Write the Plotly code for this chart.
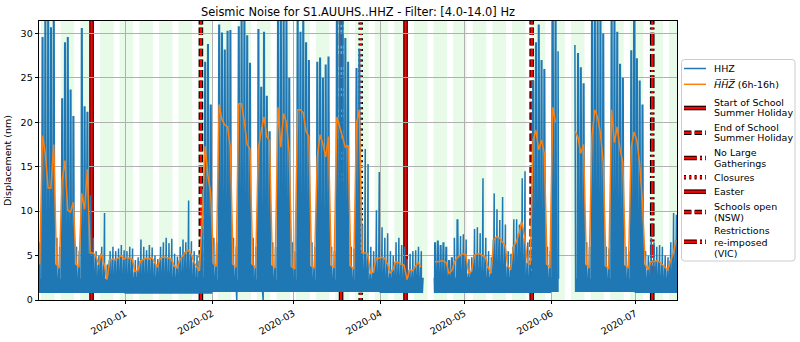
import pandas as pd
import plotly.graph_objects as go

# ---------------- data ----------------
# daily peak of the HHZ trace (nm), one value per day, Dec 1 2019 ... Jul 15 2020
peak_dec = [6.5, 29.6, 33, 33, 30.7, 33, 7.0, 6.0, 22.7, 29.0, 29.6, 23.7, 20.7, 6.0, 5.5,
            30.6, 21.8, 21.2, 11.8, 7.0, 5.5, 5.0, 6.0, 9.8, 4.0, 5.5, 6.0, 5.5, 5.8, 6.2, 5.6]
peak_jan = [5.5, 6.0, 5.8, 4.5, 4.8, 6.8, 6.0, 5.6, 6.2, 5.9, 5.0, 4.6, 6.0, 6.5, 7.0, 6.4,
            6.9, 5.2, 4.9, 6.0, 6.8, 6.5, 11.2, 6.6, 5.5, 5.0, 5.2, 12.5, 26.8, 28.8, 22.0]
peak_feb = [7.0, 6.5, 31.0, 30.1, 28.2, 30.3, 30.4, 7.0, 6.0, 30.8, 33, 33, 29.8, 26.7, 7.0,
            6.0, 30.5, 24.0, 30.2, 23.0, 19.0, 6.5, 6.0, 33, 33, 33, 31.5, 25.0, 6.5]
peak_mar = [5.5, 33, 30.2, 33, 29.0, 27.0, 6.5, 6.0, 26.8, 27.3, 25.0, 26.5, 27.4, 6.0, 5.5,
            33, 33, 33, 29.5, 26.8, 6.0, 5.8, 26.1, 28.3, 8.5, 17.0, 15.3, 6.0, 5.5, 10.1, 14.4]
peak_apr = [8.2, 7.0, 7.5, 5.5, 5.0, 6.5, 7.0, 6.2, 6.0, 4.6, 5.2, 5.5, 5.6, 6.0, 5.5, 3.5,
            None, None, None, 6.5, 6.7, 6.2, 6.5, 6.0, 4.5, 4.8, 7.0, 9.1, 7.2, 7.4]
peak_may = [6.8, 4.6, 4.8, 8.0, 8.2, 7.5, 13.7, 7.0, 5.5, 4.8, 12.0, 10.2, 9.0, 11.6, 8.5,
            5.5, 5.2, 9.1, 9.1, 8.5, 13.7, 14.5, 6.5, 5.8, 24.7, 29.0, 31.0, 27.0, 26.0, 6.0, 5.5]
peak_jun = [33, 33, 28.0, None, None, None, None, None, 28.7, 27.8, 26.2, 24.4, 6.5, 6.0,
            33, 33, 31.5, 33, 30.0, 6.0, 5.8, 33, 33, 30.2, 26.6, 25.0, 6.0, 5.5, 28.1, 33]
peak_jul = [27.2, 24.7, 22.0, 5.5, 5.0, 7.0, 6.5, 6.0, 6.2, 6.0, 5.0, 4.8, 6.5, 9.8, 9.6]

# daytime (6h-16h) mean, one value per day (plotted at noon)
mean_dec = [4.0, 18.5, 16.5, 12.6, 12.6, 17.5, 4.0, 3.6, 13.5, 15.7, 10.1, 9.9, 11.0, 4.0, 3.7,
            12.0, 10.2, 14.7, 5.3, 5.3, 5.0, 4.0, 5.2, 4.0, 2.3, 4.5, 4.6, 4.5, 4.7, 5.0, 4.6]
mean_jan = [4.8, 4.7, 4.6, 3.2, 3.3, 4.4, 4.6, 4.7, 4.6, 4.8, 4.2, 3.7, 4.7, 4.8, 4.8, 4.7,
            4.6, 3.8, 3.6, 4.5, 4.9, 5.4, 5.6, 5.2, 4.3, 3.7, 3.3, 9.0, 17.3, 14.0, 12.0]
mean_feb = [4.1, 3.8, 22.0, 20.3, 19.7, 19.5, 17.2, 4.0, 3.7, 22.1, 22.1, 20.0, 17.5, 17.0,
            4.0, 3.6, 17.0, 19.0, 20.6, 18.4, 17.9, 3.9, 3.6, 21.7, 17.2, 21.0, 20.0, 16.5, 3.7]
mean_mar = [3.5, 21.4, 21.4, 21.1, 19.0, 18.4, 3.8, 3.6, 16.0, 18.6, 17.6, 16.1, 18.4, 3.9,
            3.6, 20.6, 19.5, 18.4, 17.2, 17.4, 3.8, 3.5, 19.9, 21.4, 5.3, 5.3, 5.2, 3.0, 3.1,
            4.7, 4.7]
mean_apr = [4.8, 4.7, 4.1, 3.0, 3.4, 4.3, 4.2, 4.0, 3.9, 2.3, 3.4, 3.3, 3.8, 4.2, 3.7, None,
            None, None, None, 4.3, 4.3, 4.4, 4.4, 4.2, 3.0, 3.3, 4.3, 4.8, 5.0, 5.2]
mean_may = [5.1, 3.0, 3.2, 5.0, 5.2, 5.2, 5.0, 4.8, 3.6, 3.0, 6.8, 7.1, 7.0, 6.5, 6.1, 3.8,
            3.4, 6.0, 6.5, 7.5, 8.8, 7.0, 4.2, 4.0, 18.0, 19.1, 16.9, 18.0, 16.5, 4.0, 3.6]
mean_jun = [21.7, 20.0, None, None, None, None, None, None, 19.0, 18.3, 16.5, 17.5, 4.0, 3.6,
            18.4, 21.4, 20.6, 18.8, 15.5, 3.8, 3.5, 21.4, 17.7, 19.5, 17.0, 15.5, 3.9, 3.6,
            17.2, 18.9]
mean_jul = [18.0, 15.4, 11.0, 4.0, 3.4, 4.3, 4.3, 4.4, 4.3, 4.0, 3.8, 3.4, 4.4, 5.2, 6.7]

# night floor and typical night level of the HHZ trace per month (Dec..Jul)
months = [12, 1, 2, 3, 4, 5, 6, 7]
night_floor = [0.8, 0.7, 0.9, 0.9, 0.8, 0.8, 0.9, 0.8]
night_level = [2.4, 2.6, 2.3, 2.3, 2.5, 2.6, 2.4, 2.5]

# data gaps and short drop-outs to zero
gaps = [("2020-04-16 07:00", "2020-04-20 06:00"), ("2020-06-03 14:00", "2020-06-09 10:00")]
dropouts = ["2020-02-09 19:00", "2020-02-19 05:00"]

# events
event_dates = ["2019-12-20", "2020-01-28", "2020-03-18", "2020-03-25",
               "2020-04-10", "2020-05-25", "2020-07-07"]
event_labels = [["Start of School", "Summer Holiday"], ["End of School", "Summer Holiday"],
                ["No Large", "Gatherings"], ["Closures"], ["Easter"],
                ["Schools open", "(NSW)"], ["Restrictions", "re-imposed", "(VIC)"]]
event_dash = ["solid", "7.4px,3.2px", "12.8px,3.2px,2px,3.2px", "2px,3.3px",
              "solid", "7.4px,3.2px", "12.8px,3.2px,2px,3.2px"]

title = "Seismic Noise for S1.AUUHS..HHZ - Filter: [4.0-14.0] Hz"
x_start, x_end = "2019-12-01 06:00", "2020-07-15 20:00"
y_max = 31.4

# ---------------- build series ----------------
peak = peak_dec + peak_jan + peak_feb + peak_mar + peak_apr + peak_may + peak_jun + peak_jul
mean = mean_dec + mean_jan + mean_feb + mean_mar + mean_apr + mean_may + mean_jun + mean_jul
days = pd.date_range("2019-12-01", "2020-07-15", freq="D")
assert len(days) == len(peak) == len(mean)
floor_of = dict(zip(months, night_floor))
level_of = dict(zip(months, night_level))
gap_ts = [(pd.Timestamp(a), pd.Timestamp(b)) for a, b in gaps]

# which of the per-day readings sits at which hour of the day
PATTERN = [(0, 'L'), (2, 'Q'), (4, 'L'), (6, 'Q'), (8, 'O'), (9, 'L'), (10, 'P'), (11, 'Q'),
           (12, 'L'), (13, 'O'), (14, 'Q'), (15, 'P'), (16, 'L'), (18, 'Q'), (20, 'L'),
           (22, 'Q')]

pts = []
for d, p, o in zip(days, peak, mean):
    q = level_of[d.month]
    vals = {'L': floor_of[d.month], 'Q': q,
            'P': p if p is not None else q, 'O': o if o is not None else q}
    for h, k in PATTERN:
        t = d + pd.Timedelta(hours=h)
        if any(a < t < b for a, b in gap_ts):
            continue
        pts.append((t, vals[k]))
for t in dropouts:
    pts.append((pd.Timestamp(t), 0.0))
pts.sort(key=lambda z: z[0])

bx, by = [], []
prev = None
for t, v in pts:
    if prev is not None and (t - prev) > pd.Timedelta(hours=6):
        bx.append(prev + pd.Timedelta(hours=1))
        by.append(None)
    bx.append(t)
    by.append(v)
    prev = t

ox = [d + pd.Timedelta(hours=12) for d in days]

fig = go.Figure()

# weekday shading
for m in pd.date_range("2019-12-02", "2020-07-13", freq="W-MON"):
    x1 = min(m + pd.Timedelta(days=4, hours=20), pd.Timestamp(x_end))
    fig.add_shape(type="rect", xref="x", yref="paper", x0=m, x1=x1, y0=0, y1=1,
                  fillcolor="rgb(232,250,232)", line_width=0, layer="below")

# event lines (black outline + red core)
for d, dash in zip(event_dates, event_dash):
    fig.add_shape(type="line", xref="x", yref="paper", x0=d, x1=d, y0=0, y1=1,
                  line=dict(color="black", width=4.6, dash=dash), layer="between")
    fig.add_shape(type="line", xref="x", yref="paper", x0=d, x1=d, y0=0, y1=1,
                  line=dict(color="#ff0000", width=2.4, dash=dash), layer="between")

fig.add_trace(go.Scatter(x=bx, y=by, mode="lines", line=dict(color="#1f77b4", width=1.5),
                         connectgaps=False, showlegend=False, hoverinfo="skip"))
fig.add_trace(go.Scatter(x=ox, y=mean, mode="lines", line=dict(color="#ff7f0e", width=1.5),
                         connectgaps=False, showlegend=False, hoverinfo="skip"))

# ---------------- layout ----------------
L, R, T, B = 39, 677, 21, 300
W, H = 800, 342
FONT = "DejaVu Sans"
FS = 9.5


def px(xp):
    return (xp - L) / (R - L)


def py(yp):
    return (B - yp) / (B - T)


axis_common = dict(showgrid=True, gridcolor="#b0b0b0", gridwidth=0.8, showline=True,
                   linecolor="black", linewidth=0.8, mirror=True, ticks="outside",
                   ticklen=3.5, tickwidth=0.8, tickcolor="black", zeroline=False,
                   tickfont=dict(family=FONT, size=FS, color="black"))

fig.update_layout(
    width=W, height=H,
    margin=dict(l=L, r=W - R, t=T, b=H - B, autoexpand=False),
    paper_bgcolor="white", plot_bgcolor="white",
    title=dict(text=title, font=dict(family=FONT, size=11.4, color="black"),
               xref="paper", x=0.5, xanchor="center",
               yref="container", y=1 - 12 / H, yanchor="middle"),
    xaxis=dict(type="date", range=[x_start, x_end], tickformat="%Y-%m", dtick="M1",
               tick0="2020-01-01", tickangle=-30, **axis_common),
    yaxis=dict(range=[0, y_max], dtick=5, tick0=0,
               title=dict(text="Displacement (nm)", font=dict(family=FONT, size=FS,
                                                                 color="black"), standoff=7),
               **axis_common),
    showlegend=False,
    hovermode=False,
)

# ---------------- manual legend (matplotlib style) ----------------
bx0, bx1, by0, by1 = 681.5, 795, 59.5, 261
r = 3
path = (f"M {px(bx0 + r)},{py(by0)} L {px(bx1 - r)},{py(by0)} "
        f"Q {px(bx1)},{py(by0)} {px(bx1)},{py(by0 + r)} "
        f"L {px(bx1)},{py(by1 - r)} Q {px(bx1)},{py(by1)} {px(bx1 - r)},{py(by1)} "
        f"L {px(bx0 + r)},{py(by1)} Q {px(bx0)},{py(by1)} {px(bx0)},{py(by1 - r)} "
        f"L {px(bx0)},{py(by0 + r)} Q {px(bx0)},{py(by0)} {px(bx0 + r)},{py(by0)} Z")
fig.add_shape(type="path", xref="paper", yref="paper", path=path,
              fillcolor="rgba(255,255,255,0.8)", line=dict(color="#cccccc", width=1),
              layer="above")

sx0, sx1, tx = 684, 706, 711.5


def legend_text(lines, y_lines):
    for txt, yy in zip(lines, y_lines):
        fig.add_annotation(xref="paper", yref="paper", x=px(tx), y=py(yy), text=txt,
                           showarrow=False, xanchor="left", yanchor="middle",
                           font=dict(family=FONT, size=FS, color="black"))


fig.add_shape(type="line", xref="paper", yref="paper", x0=px(sx0), x1=px(sx1),
              y0=py(68.5), y1=py(68.5), line=dict(color="#1f77b4", width=1.5), layer="above")
legend_text(["HHZ"], [68.5])
fig.add_shape(type="line", xref="paper", yref="paper", x0=px(sx0), x1=px(sx1),
              y0=py(84.3), y1=py(84.3), line=dict(color="#ff7f0e", width=1.5), layer="above")
legend_text(["<i>H\u0305H\u0305Z\u0305</i> (6h-16h)"], [84.3])

sample_y = [108.0, 132.7, 158.0, 177.3, 191.7, 212.0, 241.7]
text_y = [[102.3, 112.9], [127.7, 137.9], [152.7, 163.3], [177.3], [191.7],
          [206.2, 217.5], [230.8, 242.0, 253.3]]
for lab, dash, sy, ty in zip(event_labels, event_dash, sample_y, text_y):
    fig.add_shape(type="line", xref="paper", yref="paper", x0=px(sx0), x1=px(sx1),
                  y0=py(sy), y1=py(sy), line=dict(color="black", width=4.6, dash=dash),
                  layer="above")
    fig.add_shape(type="line", xref="paper", yref="paper", x0=px(sx0), x1=px(sx1),
                  y0=py(sy), y1=py(sy), line=dict(color="#ff0000", width=2.4, dash=dash),
                  layer="above")
    legend_text(lab, ty)

fig.write_html("out.html", config={"displayModeBar": False},
               post_script="document.body.style.margin='0';document.body.style.padding='0';")
